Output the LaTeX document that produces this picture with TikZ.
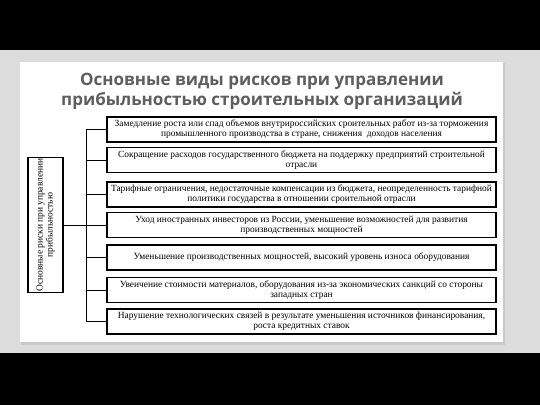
\documentclass[tikz,border=0pt]{standalone}
\usepackage{fontspec}
\setmainfont{Liberation Serif}
\newfontfamily\titlefont{Open Sans}
\definecolor{slidegray}{HTML}{DCDCDC}
\definecolor{shadowgray}{HTML}{B8B8B8}
\definecolor{titlegray}{HTML}{5E5E5E}
\tikzset{
    riskbox/.style={rectangle, draw, line width=1.4pt, minimum width=389pt, minimum height=25pt,
        inner sep=0pt, align=center, font=\fontsize{9.4}{10}\selectfont}
}
\tikzset{
    mainbox/.style={rectangle, draw, line width=1.4pt, minimum width=135pt, minimum height=35pt,
        inner sep=0pt, align=center, rotate=90, font=\fontsize{9.4}{10}\selectfont}
}
\tikzset{every path/.append style={line width=0.9pt}}

\begin{document}
\begin{tikzpicture}[x=1pt, y=-1pt]
    \useasboundingbox (0,0) rectangle (540,405);
    \fill[black] (0,0) rectangle (540,405);
    \fill[slidegray] (0,50) rectangle (540,353);
    \fill[shadowgray, opacity=.5] (21,63) rectangle (505,344.5);
    \fill[white] (20,62) rectangle (503,342);

    \node (title) [align=center, text=titlegray, font=\titlefont\bfseries\fontsize{17}{20}\selectfont] at (262, 91)
        {Основные виды рисков при управлении\\прибыльностью строительных организаций};

    \node (risk) [mainbox] at (45.5, 225) {Основные риски при управлении\\прибыльностью};

    \node (r1) [riskbox] at (301.5, 129.5) {Замедление роста или спад объемов внутрироссийских сроительных работ из-за торможения\\промышленного производства в стране, снижения \ доходов населения};
    \node (r2) [riskbox] at (301.5, 160) {Сокращение расходов государственного бюджета на поддержку предприятий строительной\\отрасли};
    \node (r3) [riskbox] at (301.5, 194.5) {Тарифные ограничения, недостаточные компенсации из бюджета, неопределенность тарифной\\политики государства в отношении сроительной отрасли};
    \node (r4) [riskbox] at (301.5, 225) {Уход иностранных инвесторов из России, уменьшение возможностей для развития\\производственных мощностей};
    \node (r5) [riskbox] at (301.5, 257.5) {Уменьшение производственных мощностей, высокий уровень износа оборудования};
    \node (r6) [riskbox] at (301.5, 290) {Увеичение стоимости материалов, оборудования из-за экономических санкций со стороны\\западных стран};
    \node (r7) [riskbox] at (301.5, 321.5) {Нарушение технологических связей в результате уменьшения источников финансирования,\\роста кредитных ставок};

    \coordinate (bus) at (86, 225);

    \draw (risk) -- (bus);
    \draw (r1.west) -| (bus);
    \draw (r2.west) -| (bus);
    \draw (r3.west) -| (bus);
    \draw (r4.west) -| (bus);
    \draw (r5.west) -| (bus);
    \draw (r6.west) -| (bus);
    \draw (r7.west) -| (bus);
\end{tikzpicture}
\end{document}
